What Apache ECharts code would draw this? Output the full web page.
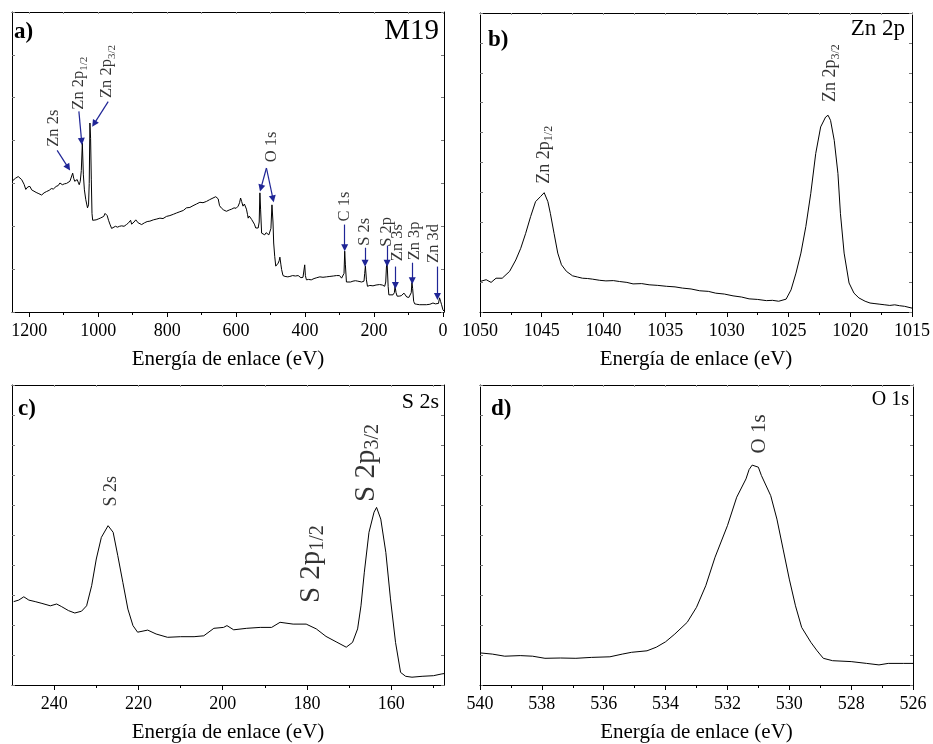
<!DOCTYPE html>
<html><head><meta charset="utf-8">
<script src="https://cdn.jsdelivr.net/npm/echarts@6/dist/echarts.min.js"></script>
<style>html,body{margin:0;padding:0;background:#fff}#c{width:933px;height:744px}</style>
</head><body><div id="c"></div>
<script>
// ---------- DATA ----------
const axisTitle = 'Energía de enlace (eV)';

// a) survey spectrum M19
const surveyE = [1250,1240,1232,1222,1215,1210,1204,1198,1193,1188,1180,1172,1164,1157,1150,1142,1136,1130,1122,1116,1111,1104,1098,1092,1087,1082,1078,1074,1071,1068,1064,1061,1058,1055,1052,1049,1046,1043,1040,1036,1031,1028,1026,1024,1022,1020,1018,1016,1012,1006,1000,994,989,984,980,977,974,970,966,961,956,950,944,938,932,925,918,912,906,903,900,896,891,887,884,880,874,866,858,850,840,830,821,812,802,792,782,773,763,753,744,734,725,715,705,696,686,677,667,659,652,648,642,636,628,620,613,606,600,594,590,587,584,580,576,573,570,567,565,562,558,555,551,547,543,539,536,533,531,529,526,522,517,513,509,505,502,499,496,493,491,488,485,481,478,475,473,470,468,464,458,450,444,436,428,420,412,406,403,401,399,396,390,382,374,366,357,348,338,328,318,309,300,294,290,287,285,283,280,275,268,261,254,247,242,236,232,229,227,225,222,219,212,203,194,184,176,169,166,164,162,159,157,152,145,141,139,136,133,127,121,117,113,109,105,99,95,92,90,88,85,82,76,68,58,48,38,29,22,17,13,10,7,4,0,-3];
const surveyI = [3.05,3.12,3.16,3.09,2.98,2.86,2.92,2.93,2.85,2.81,2.79,2.76,2.73,2.78,2.81,2.84,2.88,2.87,2.93,2.95,3.01,2.97,2.99,3.00,2.96,3.05,3.02,3.24,3.12,3.05,3.02,3.09,3.03,2.97,3.05,3.30,3.94,3.20,2.85,2.62,2.43,2.50,3.00,4.41,4.05,3.10,2.30,2.14,2.16,2.15,2.17,2.19,2.20,2.23,2.30,2.33,2.25,2.14,2.05,1.95,1.96,2.00,1.98,2.00,2.01,2.00,2.04,2.08,2.14,2.05,2.04,2.10,2.15,2.18,2.08,2.05,2.04,2.08,2.11,2.12,2.15,2.17,2.19,2.18,2.23,2.25,2.28,2.31,2.34,2.37,2.43,2.44,2.48,2.52,2.56,2.55,2.58,2.62,2.66,2.69,2.64,2.48,2.42,2.38,2.35,2.38,2.40,2.43,2.42,2.47,2.55,2.66,2.58,2.47,2.52,2.50,2.40,2.28,2.19,2.24,2.23,2.16,2.12,2.05,1.96,1.93,1.96,2.10,2.78,2.40,1.84,1.82,1.80,1.85,1.84,1.80,1.77,1.95,2.50,2.10,1.61,1.30,1.07,1.10,1.14,1.20,1.28,1.10,0.99,0.85,0.83,0.82,0.83,0.85,0.84,0.85,0.80,0.81,0.85,1.10,0.85,0.75,0.76,0.75,0.78,0.80,0.82,0.81,0.82,0.83,0.84,0.85,0.85,0.79,0.80,0.90,1.42,1.10,0.70,0.68,0.70,0.72,0.73,0.72,0.72,0.70,0.68,0.72,0.90,1.07,0.75,0.60,0.62,0.61,0.63,0.64,0.63,0.60,0.70,1.05,1.14,0.60,0.40,0.41,0.40,0.45,0.60,0.45,0.37,0.37,0.38,0.42,0.44,0.40,0.35,0.34,0.33,0.45,0.69,0.55,0.25,0.19,0.18,0.17,0.17,0.17,0.18,0.21,0.19,0.17,0.20,0.33,0.25,0.17,0.05,0.02];
const surveyTicks = [0,200,400,600,800,1000,1200];
const surveyMinor = [100,300,500,700,900,1100];
const surveyNames = ['Zn 2s','Zn 2p{s|1/2}','Zn 2p{s|3/2}','O 1s','C 1s','S 2s','S 2p','Zn 3s','Zn 3p','Zn 3d'];
const surveyNameAt = [[1130,4.29],[1056,5.34],[974,5.61],[497,3.85],[285,2.46],[226,1.87],[164,1.87],[130,1.62],[82,1.66],[26,1.60]];
const surveyArrows = [
  [[1119,3.77],[1087,3.37]],
  [[1056,4.68],[1048,3.98]],
  [[971,4.91],[1012,4.39]],
  [[512,3.36],[528,2.89]],
  [[512,3.36],[493,2.64]],
  [[285,2.04],[285,1.50]],
  [[226,1.50],[226,1.14]],
  [[162,1.55],[162,1.14]],
  [[138,1.06],[138,0.62]],
  [[89,1.15],[89,0.73]],
  [[16,1.06],[16,0.36]]
];

// b) Zn 2p
const zn2pE = [1050.0,1049.5,1049.1,1048.7,1048.2,1047.6,1047.1,1046.7,1046.3,1045.9,1045.5,1045.1,1044.8,1044.5,1044.3,1044.0,1043.7,1043.4,1043.0,1042.5,1042.1,1041.7,1041.3,1040.9,1040.3,1039.8,1039.2,1038.7,1038.1,1037.6,1036.9,1036.3,1035.6,1034.9,1034.2,1033.6,1032.9,1032.2,1031.5,1030.9,1030.2,1029.5,1028.8,1028.2,1027.5,1026.8,1026.3,1025.8,1025.2,1024.8,1024.4,1024.0,1023.6,1023.2,1022.8,1022.4,1022.0,1021.8,1021.6,1021.3,1021.0,1020.8,1020.5,1020.1,1019.7,1019.3,1018.8,1018.4,1018.0,1017.6,1017.2,1016.8,1016.4,1016.0,1015.6,1015.0];
const zn2pI = [1.02,1.08,0.99,1.13,1.13,1.36,1.74,2.13,2.63,3.19,3.69,3.86,3.99,3.69,3.30,2.63,1.97,1.58,1.36,1.21,1.17,1.13,1.12,1.10,1.06,1.04,1.05,1.02,0.99,0.94,0.95,0.91,0.89,0.86,0.84,0.80,0.77,0.71,0.69,0.63,0.60,0.54,0.50,0.44,0.42,0.38,0.39,0.36,0.43,0.74,1.30,1.97,2.86,3.97,5.30,6.19,6.52,6.58,6.41,5.74,4.63,3.30,1.97,0.97,0.63,0.47,0.36,0.30,0.28,0.26,0.24,0.22,0.24,0.21,0.19,0.13];
const zn2pTicks = [1015,1020,1025,1030,1035,1040,1045,1050];
const zn2pMinor = [1017.5,1022.5,1027.5,1032.5,1037.5,1042.5,1047.5];
const zn2pNames = ['Zn 2p{s|1/2}','Zn 2p{s|3/2}'];
const zn2pNameAt = [[1044.8,5.26],[1021.6,7.99]];

// c) S 2s / S 2p
const s2pE = [249.6,248.4,247.2,246.0,244.5,242.9,240.9,239.4,238.2,236.6,235.1,233.5,232.3,231.1,230.0,228.8,227.2,226.0,224.9,223.7,222.5,221.3,220.2,217.8,215.8,213.1,210.0,206.8,204.5,202.1,199.8,199.0,197.4,194.3,191.1,188.4,186.4,183.3,180.2,177.8,175.5,173.1,170.7,169.2,168.0,167.2,166.4,165.3,164.1,163.5,162.5,161.3,160.2,159.0,157.8,156.6,155.1,152.7,150.0,148.0,147.5];
const s2pI = [2.78,2.83,2.94,2.83,2.78,2.72,2.64,2.70,2.61,2.48,2.40,2.46,2.64,3.31,4.20,4.92,5.31,5.09,4.31,3.42,2.53,1.98,1.76,1.83,1.70,1.59,1.61,1.61,1.64,1.89,1.92,1.98,1.84,1.89,1.92,1.92,2.09,2.03,2.03,1.87,1.62,1.44,1.26,1.42,1.87,2.64,3.76,5.09,5.76,5.92,5.53,4.42,2.87,1.42,0.42,0.29,0.26,0.29,0.31,0.37,0.38];
const s2pTicks = [160,180,200,220,240];
const s2pMinor = [150,170,190,210,230];
const s2pNames = ['S 2s','{b|S 2p}{bs|1/2}','{b|S 2p}{bs|3/2}'];
const s2pNameAt = [[226.4,6.46],[179.0,4.03],[166.0,7.40]];

// d) O 1s
const o1sE = [540.0,539.6,539.2,538.7,538.3,537.9,537.4,536.9,536.4,535.8,535.4,535.1,534.6,534.3,534.0,533.7,533.3,533.0,532.7,532.4,532.0,531.7,531.4,531.3,531.2,531.0,530.9,530.6,530.4,530.2,530.0,529.8,529.6,529.3,529.1,528.9,528.6,528.0,527.5,527.1,526.8,526.3,526.0];
const o1sI = [1.07,1.03,0.96,0.98,0.96,0.89,0.90,0.89,0.92,0.94,1.03,1.09,1.14,1.26,1.44,1.70,2.09,2.59,3.31,4.26,5.31,6.26,6.87,7.18,7.33,7.26,6.98,6.31,5.53,4.53,3.53,2.64,1.92,1.42,1.14,0.89,0.81,0.78,0.72,0.67,0.72,0.72,0.72];
const o1sTicks = [526,528,530,532,534,536,538,540];
const o1sMinor = [527,529,531,533,535,537,539];
const o1sNames = ['O 1s'];
const o1sNameAt = [[530.96,8.37]];

// ---------- CHART ----------
const FONT = 'Liberation Serif';
const ARROW = '#1f2596';

const panels = [
  {grid:{left:12,top:12,width:432,height:300}, xmin:-3, xmax:1250, ymax:7, ticks:surveyTicks, minor:surveyMinor, E:surveyE, I:surveyI, names:surveyNames, at:surveyNameAt, fs:16.5, arrows:surveyArrows},
  {grid:{left:480,top:13,width:433,height:299}, xmin:1015, xmax:1050, ymax:10, ticks:zn2pTicks, minor:zn2pMinor, E:zn2pE, I:zn2pI, names:zn2pNames, at:zn2pNameAt, fs:18},
  {grid:{left:12,top:385,width:432,height:300}, xmin:147.5, xmax:250, ymax:10, ticks:s2pTicks, minor:s2pMinor, E:s2pE, I:s2pI, names:s2pNames, at:s2pNameAt, fs:18},
  {grid:{left:480,top:385,width:433,height:300}, xmin:526, xmax:540, ymax:10, ticks:o1sTicks, minor:o1sMinor, E:o1sE, I:o1sI, names:o1sNames, at:o1sNameAt, fs:21}
];

const grid=[], xAxis=[], yAxis=[], series=[];
panels.forEach((p,i)=>{
  grid.push(p.grid);
  const base = {gridIndex:i, type:'value', inverse:true, min:p.xmin, max:p.xmax, splitLine:{show:false}, silent:true};
  xAxis.push(Object.assign({}, base, {
    position:'bottom',
    axisLine:{show:true,onZero:false,lineStyle:{color:'#000',width:1}},
    axisTick:{show:true,inside:false,length:5,customValues:p.ticks,lineStyle:{color:'#000',width:1}},
    axisLabel:{show:true,customValues:p.ticks,margin:10,fontSize:18,color:'#000',fontFamily:FONT,formatter:v=>String(v)},
    name:axisTitle, nameLocation:'middle', nameGap:37,
    nameTextStyle:{fontSize:21,color:'#000',fontFamily:FONT}
  }));
  xAxis.push(Object.assign({}, base, {
    position:'bottom',
    axisLine:{show:false,onZero:false},
    axisTick:{show:true,inside:false,length:3,customValues:p.minor,lineStyle:{color:'#000',width:1}},
    axisLabel:{show:false}
  }));
  xAxis.push(Object.assign({}, base, {
    position:'top',
    axisLine:{show:true,onZero:false,lineStyle:{color:'#000',width:1}},
    axisTick:{show:true,inside:true,length:2,customValues:p.ticks.concat(p.minor),lineStyle:{color:'#999',width:1}},
    axisLabel:{show:false}
  }));
  const ybase = {gridIndex:i, type:'value', min:0, max:p.ymax, interval:1, splitLine:{show:false}, axisLabel:{show:false}, silent:true,
    axisLine:{show:true,onZero:false,lineStyle:{color:'#000',width:1}},
    axisTick:{show:true,inside:true,length:3,lineStyle:{color:'#777',width:1}}};
  yAxis.push(Object.assign({}, ybase, {position:'left'}));
  yAxis.push(Object.assign({}, ybase, {position:'right'}));

  const lineSeries = {
    type:'line', xAxisIndex:i*3, yAxisIndex:i*2,
    data:p.E.map((e,k)=>[e,p.I[k]]),
    showSymbol:false, symbol:'none', silent:true, animation:false,
    lineStyle:{color:'#000',width:1}
  };
  if (p.arrows) {
    lineSeries.markLine = {
      silent:true, animation:false,
      symbol:'triangle', symbolSize:7,
      label:{show:false},
      lineStyle:{color:ARROW,width:1.2,type:'solid'},
      itemStyle:{color:ARROW},
      emphasis:{disabled:true},
      data:p.arrows.map(a=>[{coord:a[0],symbol:'none'},{coord:a[1],symbol:'triangle',symbolSize:7}])
    };
  }
  series.push(lineSeries);

  series.push({
    type:'scatter', xAxisIndex:i*3, yAxisIndex:i*2, symbolSize:0, silent:true, animation:false,
    data:p.names.map((n,k)=>({name:n, value:p.at[k]})),
    label:{
      show:true, position:'inside', rotate:90, formatter:d=>d.name,
      color:'#000', fontFamily:FONT, fontSize:p.fs, lineHeight:p.fs+4,
      rich:{
        s:{fontSize:Math.round(p.fs*0.66), lineHeight:Math.round(p.fs*0.66), verticalAlign:'bottom', fontFamily:FONT, color:'#000'},
        b:{fontSize:29, lineHeight:34, fontFamily:FONT, color:'#000'},
        bs:{fontSize:20, lineHeight:20, verticalAlign:'bottom', fontFamily:FONT, color:'#000'}
      }
    }
  });
});

const graphic = [
  {type:'text', left:14, top:21, style:{text:'a)', font:'bold 23px '+FONT, fill:'#000'}},
  {type:'text', right:933-439, top:17, style:{text:'M19', font:'29px '+FONT, fill:'#000'}},
  {type:'text', left:488, top:29, style:{text:'b)', font:'bold 23px '+FONT, fill:'#000'}},
  {type:'text', right:933-905, top:17, style:{text:'Zn 2p', font:'23px '+FONT, fill:'#000'}},
  {type:'text', left:18, top:398, style:{text:'c)', font:'bold 23px '+FONT, fill:'#000'}},
  {type:'text', right:933-439, top:391, style:{text:'S 2s', font:'22px '+FONT, fill:'#000'}},
  {type:'text', left:491, top:398, style:{text:'d)', font:'bold 23px '+FONT, fill:'#000'}},
  {type:'text', right:933-909, top:390, style:{text:'O 1s', font:'20px '+FONT, fill:'#000'}}
];

const chart = echarts.init(document.getElementById('c'), null, {renderer:'canvas'});
chart.setOption({
  animation:false,
  backgroundColor:'#fff',
  textStyle:{fontFamily:FONT, color:'#000'},
  grid, xAxis, yAxis, series, graphic
});
</script></body></html>
